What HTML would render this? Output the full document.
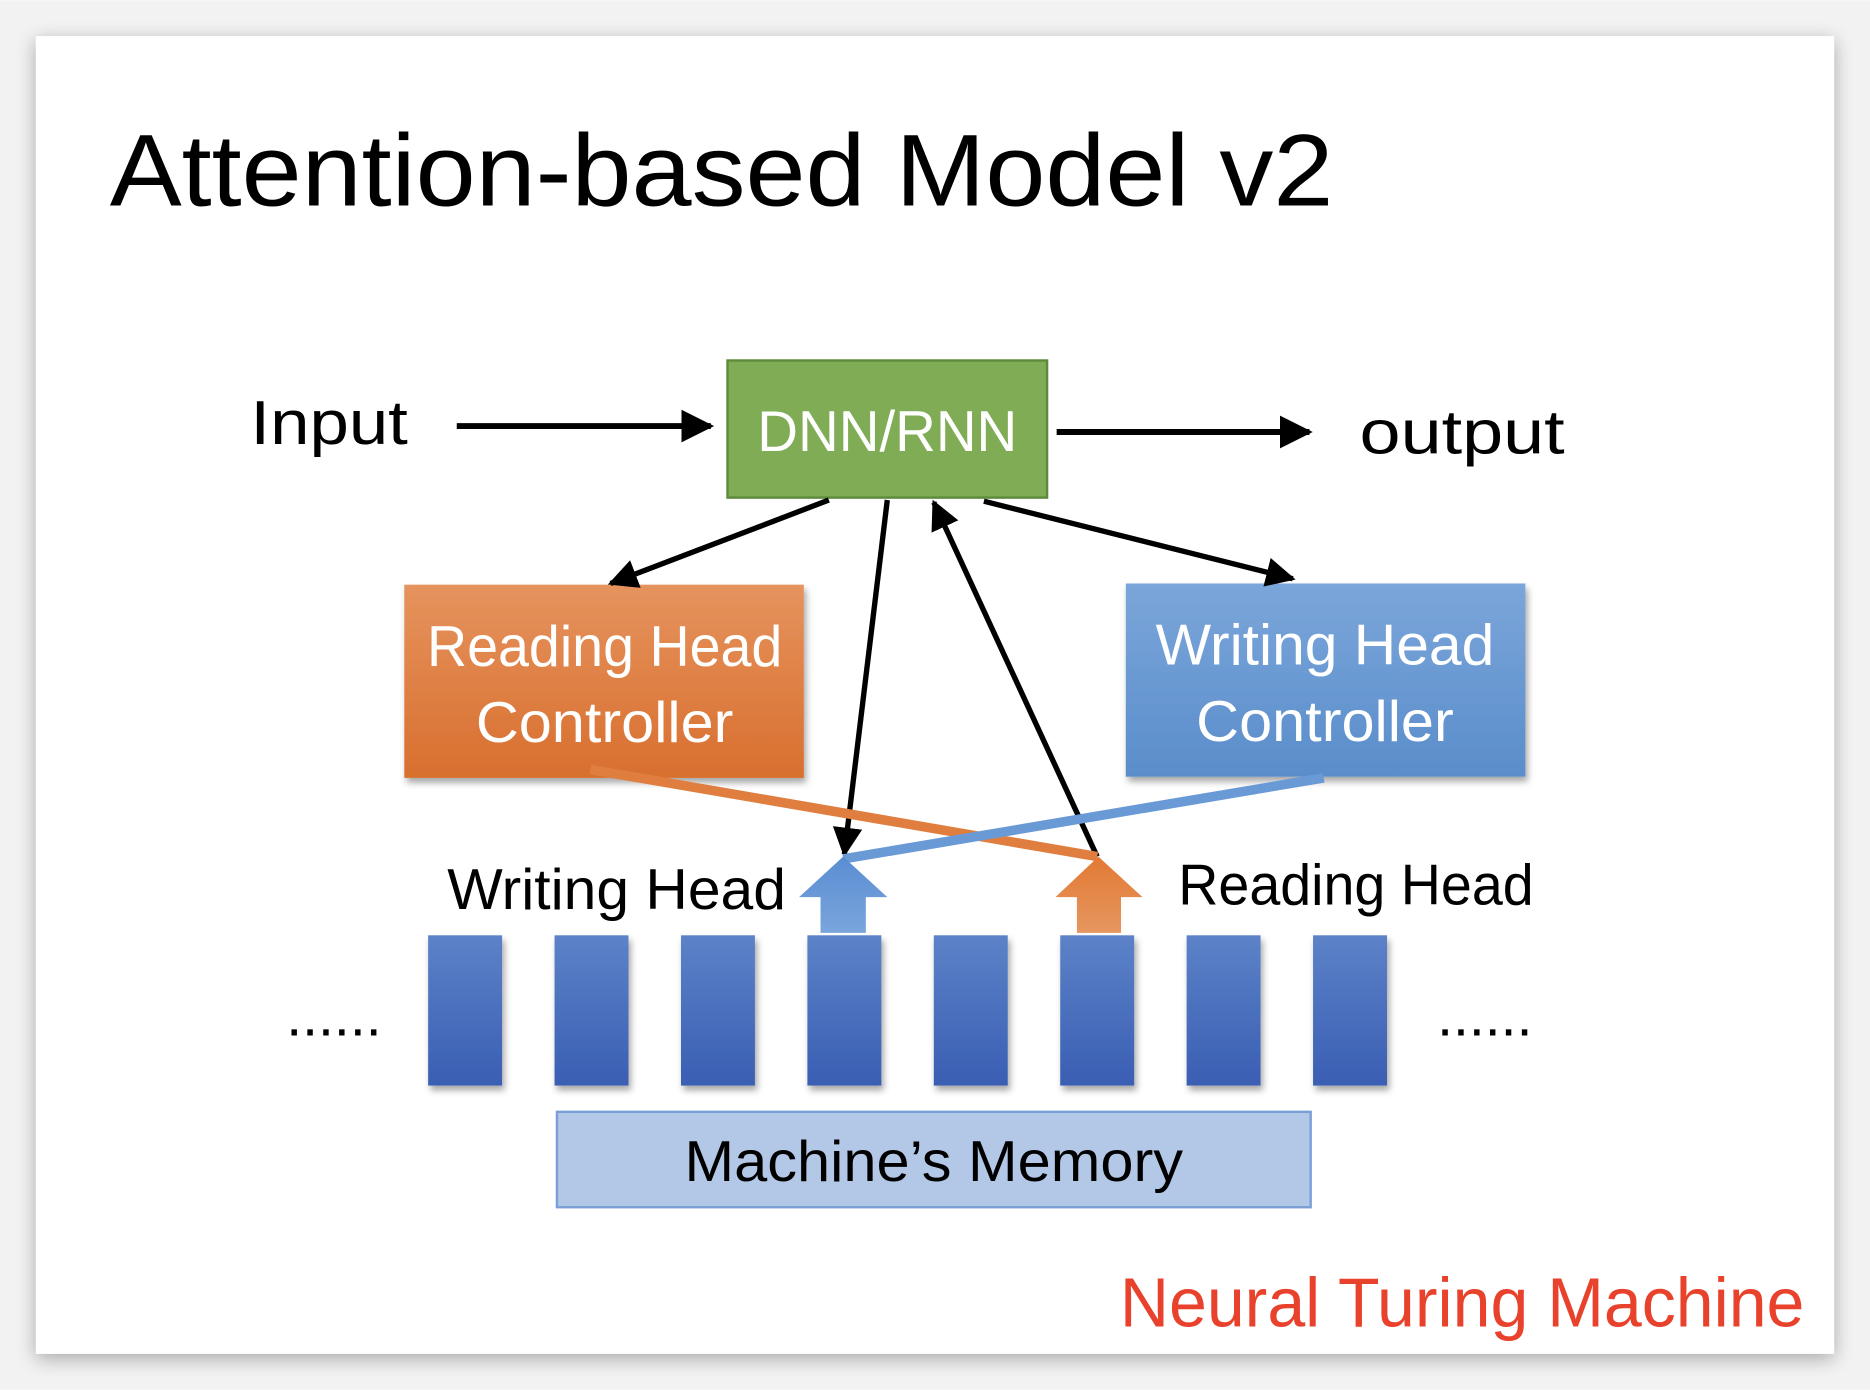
<!DOCTYPE html>
<html><head><meta charset="utf-8"><style>
html,body{margin:0;padding:0;background:#fff;}
svg{display:block;}
text{font-family:"Liberation Sans",sans-serif;}
</style></head><body>
<svg width="1870" height="1390" viewBox="0 0 1568 1165" xmlns="http://www.w3.org/2000/svg">
<defs>
<filter id="sh" x="-5%" y="-5%" width="110%" height="110%"><feGaussianBlur stdDeviation="8"/></filter>
<filter id="bs" x="-10%" y="-10%" width="130%" height="130%"><feDropShadow dx="2" dy="4" stdDeviation="3" flood-color="#000" flood-opacity="0.35"/></filter>
<linearGradient id="og" x1="0" y1="0" x2="0" y2="1"><stop offset="0" stop-color="#e6935e"/><stop offset="1" stop-color="#d86f2e"/></linearGradient>
<linearGradient id="bg" x1="0" y1="0" x2="0" y2="1"><stop offset="0" stop-color="#7ba6da"/><stop offset="1" stop-color="#5a8dcb"/></linearGradient>
<linearGradient id="mg" x1="0" y1="0" x2="0" y2="1"><stop offset="0" stop-color="#5c82c8"/><stop offset="1" stop-color="#3a5eb3"/></linearGradient>
<linearGradient id="ua" x1="0" y1="0" x2="0" y2="1"><stop offset="0" stop-color="#5a8dd2"/><stop offset="1" stop-color="#7aa5dc"/></linearGradient>
<linearGradient id="oa" x1="0" y1="0" x2="0" y2="1"><stop offset="0" stop-color="#e27a34"/><stop offset="1" stop-color="#e69660"/></linearGradient>
<marker id="ah" viewBox="0 0 10 10" refX="9" refY="5" markerWidth="5.5" markerHeight="5.5" orient="auto-start-reverse"><path d="M0,0 L10,5 L0,10 Z" fill="#000"/></marker>
</defs>
<rect x="0" y="0" width="1568" height="1165" fill="#f2f2f2"/>
<rect x="30" y="34" width="1508" height="1105" fill="#000" opacity="0.3" filter="url(#sh)"/>
<rect x="30" y="30" width="1508" height="1105" fill="#fff"/>
<text x="92" y="172" font-size="86" textLength="1026" lengthAdjust="spacingAndGlyphs" fill="#000">Attention-based Model v2</text>
<text x="210" y="372" font-size="52" textLength="132" lengthAdjust="spacingAndGlyphs">Input</text>
<line x1="383" y1="357" x2="596" y2="357" stroke="#000" stroke-width="5" marker-end="url(#ah)"/>
<rect x="610" y="302" width="268" height="115" fill="#7fac55" stroke="#5e8a3b" stroke-width="2"/>
<text x="744" y="378" font-size="48" fill="#fff" text-anchor="middle" textLength="218" lengthAdjust="spacingAndGlyphs">DNN/RNN</text>
<line x1="886" y1="362" x2="1098" y2="362" stroke="#000" stroke-width="5" marker-end="url(#ah)"/>
<text x="1140" y="380" font-size="52" textLength="172" lengthAdjust="spacingAndGlyphs">output</text>
<rect x="339" y="490" width="335" height="162" fill="url(#og)" filter="url(#bs)"/>
<text x="507" y="558" font-size="48" fill="#fff" text-anchor="middle" textLength="298" lengthAdjust="spacingAndGlyphs">Reading Head</text>
<text x="507" y="622" font-size="48" fill="#fff" text-anchor="middle" textLength="216" lengthAdjust="spacingAndGlyphs">Controller</text>
<rect x="944" y="489" width="335" height="162" fill="url(#bg)" filter="url(#bs)"/>
<text x="1111" y="557" font-size="48" fill="#fff" text-anchor="middle" textLength="284" lengthAdjust="spacingAndGlyphs">Writing Head</text>
<text x="1111" y="621" font-size="48" fill="#fff" text-anchor="middle" textLength="216" lengthAdjust="spacingAndGlyphs">Controller</text>
<line x1="695" y1="419" x2="512" y2="489" stroke="#000" stroke-width="4.5" marker-end="url(#ah)"/>
<line x1="744" y1="419" x2="708" y2="716" stroke="#000" stroke-width="4.5" marker-end="url(#ah)"/>
<line x1="920" y1="718" x2="783" y2="421" stroke="#000" stroke-width="4.5" marker-end="url(#ah)"/>
<line x1="825" y1="420" x2="1084" y2="485" stroke="#000" stroke-width="4.5" marker-end="url(#ah)"/>
<line x1="495" y1="645" x2="920" y2="718" stroke="#e07e40" stroke-width="8"/>
<line x1="1110" y1="652" x2="707" y2="720" stroke="#6a9ad6" stroke-width="8"/>
<path d="M670,752 L707,718 L744,752 L726,752 L726,782 L688,782 L688,752 Z" fill="url(#ua)"/>
<path d="M885,752 L921,718 L958,752 L940,752 L940,782 L903,782 L903,752 Z" fill="url(#oa)"/>
<text x="375" y="762" font-size="48" textLength="284" lengthAdjust="spacingAndGlyphs">Writing Head</text>
<text x="988" y="758" font-size="48" textLength="298" lengthAdjust="spacingAndGlyphs">Reading Head</text>
<g fill="url(#mg)" filter="url(#bs)">
<rect x="359" y="784" width="62" height="126"/><rect x="465" y="784" width="62" height="126"/>
<rect x="571" y="784" width="62" height="126"/><rect x="677" y="784" width="62" height="126"/>
<rect x="783" y="784" width="62" height="126"/><rect x="889" y="784" width="62" height="126"/>
<rect x="995" y="784" width="62" height="126"/><rect x="1101" y="784" width="62" height="126"/>
</g>
<text x="240" y="868" font-size="48" textLength="80" lengthAdjust="spacingAndGlyphs">......</text>
<text x="1205" y="868" font-size="48" textLength="80" lengthAdjust="spacingAndGlyphs">......</text>
<rect x="467" y="932" width="632" height="80" fill="#b3c7e6" stroke="#7a9ed6" stroke-width="2"/>
<text x="783" y="990" font-size="48" text-anchor="middle" textLength="418" lengthAdjust="spacingAndGlyphs">Machine’s Memory</text>
<text x="1513" y="1112" font-size="58" fill="#e8412c" text-anchor="end" textLength="574" lengthAdjust="spacingAndGlyphs">Neural Turing Machine</text>
</svg>
</body></html>
